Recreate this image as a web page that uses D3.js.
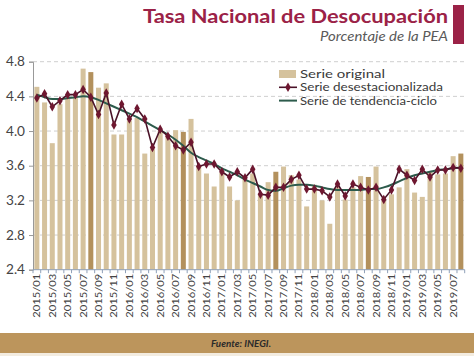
<!DOCTYPE html>
<html>
<head>
<meta charset="utf-8">
<script src="https://cdn.jsdelivr.net/npm/d3@7"></script>
<style>
  html, body { margin: 0; padding: 0; background: #fff; }
  svg { display: block; font-family: Lato, "Open Sans", sans-serif; }
</style>
</head>
<body>
<svg id="chart" width="474" height="356"></svg>
<script>
const months = [
  "2015/01","2015/02","2015/03","2015/04","2015/05","2015/06","2015/07","2015/08","2015/09","2015/10","2015/11","2015/12",
  "2016/01","2016/02","2016/03","2016/04","2016/05","2016/06","2016/07","2016/08","2016/09","2016/10","2016/11","2016/12",
  "2017/01","2017/02","2017/03","2017/04","2017/05","2017/06","2017/07","2017/08","2017/09","2017/10","2017/11","2017/12",
  "2018/01","2018/02","2018/03","2018/04","2018/05","2018/06","2018/07","2018/08","2018/09","2018/10","2018/11","2018/12",
  "2019/01","2019/02","2019/03","2019/04","2019/05","2019/06","2019/07","2019/08"
];
const original = [
  4.51, 4.33, 3.86, 4.31, 4.38, 4.39, 4.72, 4.68, 4.50, 4.55,
  3.96, 3.96, 4.12, 4.15, 3.74, 3.79, 4.00, 3.95, 4.01, 3.99,
  4.14, 3.60, 3.51, 3.36, 3.52, 3.36, 3.20, 3.44, 3.51, 3.28,
  3.41, 3.53, 3.59, 3.49, 3.44, 3.13, 3.38, 3.20, 2.93, 3.37,
  3.21, 3.35, 3.48, 3.47, 3.59, 3.20, 3.27, 3.35, 3.56, 3.29,
  3.24, 3.53, 3.50, 3.51, 3.71, 3.74
];
const desestacionalizada = [
  4.38, 4.43, 4.28, 4.35, 4.42, 4.42, 4.48, 4.39, 4.19, 4.44,
  4.07, 4.31, 4.14, 4.26, 4.14, 3.81, 4.02, 3.94, 3.83, 3.78,
  3.87, 3.59, 3.62, 3.62, 3.53, 3.47, 3.53, 3.46, 3.56, 3.27,
  3.26, 3.35, 3.35, 3.44, 3.49, 3.33, 3.33, 3.31, 3.24, 3.39,
  3.25, 3.39, 3.35, 3.32, 3.35, 3.21, 3.32, 3.56, 3.49, 3.43,
  3.56, 3.47, 3.55, 3.55, 3.58, 3.57
];
const tendencia = [
  4.42, 4.39, 4.37, 4.37, 4.38, 4.39, 4.40, 4.39, 4.36, 4.32,
  4.28, 4.24, 4.20, 4.16, 4.11, 4.06, 4.01, 3.96, 3.90, 3.83,
  3.75, 3.70, 3.66, 3.62, 3.57, 3.53, 3.49, 3.44, 3.40, 3.36,
  3.32, 3.31, 3.34, 3.37, 3.38, 3.38, 3.37, 3.35, 3.33, 3.32,
  3.32, 3.32, 3.32, 3.33, 3.33, 3.35, 3.38, 3.42, 3.46, 3.49,
  3.51, 3.53, 3.55, 3.56, 3.57, 3.58
];
const highlighted = ["2015/08","2016/08","2017/08","2018/08","2019/08"];
const yTicks = [2.4, 2.8, 3.2, 3.6, 4.0, 4.4, 4.8];
const legendLabels = ["Serie original", "Serie desestacionalizada", "Serie de tendencia-ciclo"];
const titleText = "Tasa Nacional de Desocupación";
const subtitleText = "Porcentaje de la PEA";
const sourceText = "Fuente: INEGI.";

const C = {
  title: "#9b2247", bar: "#d5c29d", barDark: "#b3915d", des: "#4a1228", marker: "#6e1730",
  trend: "#2d5b4c", grid: "#cfcfcf", text: "#444", band: "#bc955c", tick: "#8fa0b8"
};

const svg = d3.select("#chart");
const pLeft = 33, pRight = 464.7, pTop = 61.7, pBottom = 269.7;

function stretch(sel, w) {
  sel.attr("textLength", w).attr("lengthAdjust", "spacingAndGlyphs");
}

// Header
svg.append("rect").attr("x", 453).attr("y", 5).attr("width", 11).attr("height", 39).attr("fill", C.title);
stretch(svg.append("text").attr("x", 143).attr("y", 23.3)
  .attr("font-size", 19.5).attr("font-weight", 700).attr("fill", C.title).text(titleText), 305);
stretch(svg.append("text").attr("x", 320).attr("y", 40.5)
  .attr("font-size", 13).attr("font-style", "italic").attr("fill", "#5a5a5a").text(subtitleText), 128);

const x = d3.scaleBand().domain(months).range([pLeft, pRight]).paddingInner(0.35).paddingOuter(0.175);
const y = d3.scaleLinear().domain([2.4, 4.8]).range([pBottom, pTop]);
const cx = d => x(d) + x.bandwidth() / 2;

// grid
svg.append("g").selectAll("line").data(yTicks.filter(t => t > 2.4)).join("line")
  .attr("x1", pLeft).attr("x2", pRight).attr("y1", d => y(d)).attr("y2", d => y(d))
  .attr("stroke", C.grid).attr("stroke-dasharray", "4,3").attr("stroke-width", 1);

// y axis
const ya = svg.append("g").attr("transform", `translate(${pLeft},0)`)
  .call(d3.axisLeft(y).tickValues(yTicks).tickFormat(d3.format(".1f")).tickSize(4).tickPadding(4));
ya.select(".domain").attr("stroke", "#999");
ya.selectAll(".tick line").attr("stroke", "#999");
ya.selectAll(".tick text").attr("font-size", 12.5).attr("fill", C.text).attr("font-family", "Lato, sans-serif")
  .attr("textLength", 19).attr("lengthAdjust", "spacingAndGlyphs");

// bars
svg.append("g").selectAll("rect").data(months).join("rect")
  .attr("x", d => x(d)).attr("width", x.bandwidth())
  .attr("y", (d, i) => y(original[i])).attr("height", (d, i) => pBottom - y(original[i]))
  .attr("fill", d => highlighted.includes(d) ? C.barDark : C.bar);

// x axis
svg.append("line").attr("x1", pLeft).attr("x2", pRight).attr("y1", pBottom).attr("y2", pBottom).attr("stroke", C.tick);
const edges = months.map(m => x(m) - x.step() * x.paddingInner() / 2).concat([pRight]);
svg.append("g").selectAll("line").data(edges).join("line")
  .attr("x1", d => d).attr("x2", d => d).attr("y1", pBottom).attr("y2", pBottom + 3.5)
  .attr("stroke", C.tick).attr("stroke-width", 1);
svg.append("g").selectAll("text").data(months.filter((m, i) => i % 2 === 0)).join("text")
  .attr("transform", d => `translate(${cx(d) + 3.5},${pBottom + 4}) rotate(-90)`)
  .attr("text-anchor", "end").attr("font-size", 10).attr("fill", C.text)
  .attr("textLength", 44).attr("lengthAdjust", "spacingAndGlyphs").text(d => d);

// trend line
svg.append("path").datum(tendencia)
  .attr("d", d3.line().x((d, i) => cx(months[i])).y(d => y(d)).curve(d3.curveMonotoneX))
  .attr("fill", "none").attr("stroke", C.trend).attr("stroke-width", 2);

// des line
svg.append("path").datum(desestacionalizada)
  .attr("d", d3.line().x((d, i) => cx(months[i])).y(d => y(d)))
  .attr("fill", "none").attr("stroke", C.des).attr("stroke-width", 1.6);
const sym = d3.symbol().type(d3.symbolDiamond).size(26);
svg.append("g").selectAll("path").data(desestacionalizada).join("path")
  .attr("transform", (d, i) => `translate(${cx(months[i])},${y(d)})`)
  .attr("d", sym).attr("fill", C.marker);

// legend
const lg = svg.append("g");
const lx = 279, ly = [74, 87.3, 100.6], lw = [85, 143, 137];
lg.append("rect").attr("x", lx).attr("y", ly[0] - 4).attr("width", 17).attr("height", 8).attr("fill", C.bar);
lg.append("line").attr("x1", lx).attr("x2", lx + 18).attr("y1", ly[1]).attr("y2", ly[1]).attr("stroke", C.des).attr("stroke-width", 1.6);
lg.append("path").attr("transform", `translate(${lx + 9},${ly[1]})`).attr("d", sym).attr("fill", C.marker);
lg.append("line").attr("x1", lx).attr("x2", lx + 18).attr("y1", ly[2]).attr("y2", ly[2]).attr("stroke", C.trend).attr("stroke-width", 2);
legendLabels.forEach((t, i) =>
  stretch(lg.append("text").attr("x", 300).attr("y", ly[i] + 4).attr("font-size", 10.8).attr("fill", "#3a3a3a").text(t), lw[i]));

// footer band
svg.append("rect").attr("x", 0).attr("y", 333).attr("width", 474).attr("height", 20).attr("fill", C.band);
svg.append("rect").attr("x", 0).attr("y", 353).attr("width", 474).attr("height", 3).attr("fill", "#f3ece0");
stretch(svg.append("text").attr("x", 211).attr("y", 346.5)
  .attr("font-size", 9).attr("font-weight", 700).attr("font-style", "italic").attr("fill", "#2a2a2a").text(sourceText), 60);
</script>
</body>
</html>
